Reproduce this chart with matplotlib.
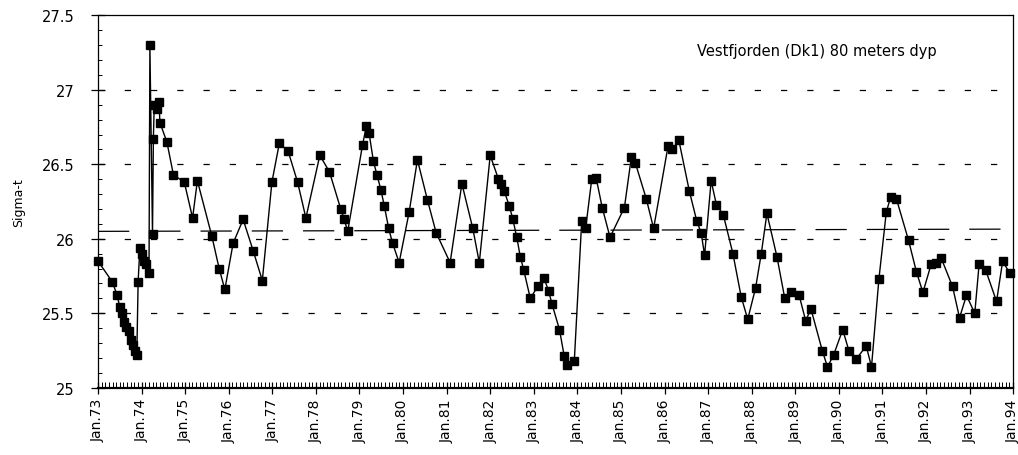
import matplotlib
matplotlib.use("Agg")
import matplotlib.pyplot as plt
from matplotlib.ticker import MultipleLocator

# sampling time (decimal year) and sigma-t at 80 m
years = [
    1973.00, 1973.33, 1973.44, 1973.50, 1973.56, 1973.60, 1973.65, 1973.70, 1973.75, 1973.80,
    1973.85, 1973.89, 1973.92, 1973.96, 1974.00, 1974.06, 1974.11, 1974.17, 1974.19, 1974.25,
    1974.27, 1974.29, 1974.35, 1974.40, 1974.42, 1974.58, 1974.73, 1974.98, 1975.17, 1975.28,
    1975.61, 1975.78, 1975.91, 1976.10, 1976.33, 1976.56, 1976.77, 1976.99, 1977.16, 1977.36,
    1977.58, 1977.77, 1978.09, 1978.31, 1978.57, 1978.65, 1978.73, 1979.07, 1979.16, 1979.22,
    1979.32, 1979.40, 1979.49, 1979.57, 1979.67, 1979.76, 1979.91, 1980.14, 1980.33, 1980.56,
    1980.76, 1981.08, 1981.35, 1981.60, 1981.75, 1982.00, 1982.19, 1982.25, 1982.32, 1982.44,
    1982.52, 1982.61, 1982.69, 1982.77, 1982.92, 1983.09, 1983.23, 1983.34, 1983.42, 1983.59,
    1983.70, 1983.77, 1983.93, 1984.10, 1984.19, 1984.33, 1984.43, 1984.57, 1984.75, 1985.08,
    1985.24, 1985.33, 1985.58, 1985.75, 1986.08, 1986.18, 1986.33, 1986.57, 1986.74, 1986.84,
    1986.92, 1987.07, 1987.19, 1987.35, 1987.57, 1987.76, 1987.91, 1988.09, 1988.22, 1988.35,
    1988.58, 1988.76, 1988.91, 1989.09, 1989.24, 1989.36, 1989.62, 1989.74, 1989.88, 1990.09,
    1990.23, 1990.39, 1990.63, 1990.75, 1990.92, 1991.09, 1991.19, 1991.32, 1991.60, 1991.78,
    1991.93, 1992.12, 1992.22, 1992.35, 1992.61, 1992.77, 1992.93, 1993.12, 1993.22, 1993.37,
    1993.62, 1993.76, 1993.92,
]
sigma_t = [
    25.85, 25.71, 25.62, 25.54, 25.50, 25.44, 25.41, 25.38, 25.32, 25.29,
    25.25, 25.22, 25.71, 25.94, 25.90, 25.85, 25.83, 25.77, 27.30, 26.03,
    26.67, 26.90, 26.87, 26.92, 26.78, 26.65, 26.43, 26.38, 26.14, 26.39,
    26.02, 25.80, 25.66, 25.97, 26.13, 25.92, 25.72, 26.38, 26.64, 26.59,
    26.38, 26.14, 26.56, 26.45, 26.20, 26.13, 26.05, 26.63, 26.76, 26.71,
    26.52, 26.43, 26.33, 26.22, 26.07, 25.97, 25.84, 26.18, 26.53, 26.26,
    26.04, 25.84, 26.37, 26.07, 25.84, 26.56, 26.40, 26.37, 26.32, 26.22,
    26.13, 26.01, 25.88, 25.79, 25.60, 25.68, 25.74, 25.65, 25.56, 25.39,
    25.21, 25.15, 25.18, 26.12, 26.07, 26.40, 26.41, 26.21, 26.01, 26.21,
    26.55, 26.51, 26.27, 26.07, 26.62, 26.60, 26.66, 26.32, 26.12, 26.04,
    25.89, 26.39, 26.23, 26.16, 25.90, 25.61, 25.46, 25.67, 25.90, 26.17,
    25.88, 25.60, 25.64, 25.62, 25.45, 25.53, 25.25, 25.14, 25.22, 25.39,
    25.25, 25.19, 25.28, 25.14, 25.73, 26.18, 26.28, 26.27, 25.99, 25.78,
    25.64, 25.83, 25.84, 25.87, 25.68, 25.47, 25.62, 25.50, 25.83, 25.79,
    25.58, 25.85, 25.77,
]

# linear trend drawn across the full period
trend_years = [1973, 1994]
trend_vals = [26.05, 26.065]

tick_years = list(range(1973, 1995))
tick_labels = ["Jan.%02d" % (y % 100) for y in tick_years]
y_ticks = [25, 25.5, 26, 26.5, 27, 27.5]
y_labels = ["25", "25.5", "26", "26.5", "27", "27.5"]

plt.rcParams['font.family'] = ['DejaVu Sans']

fig = plt.figure(figsize=(10.18, 4.56), dpi=100)
ax = fig.add_axes([0.0963, 0.1474, 0.8989, 0.8168])

# dotted reference lines at each half unit
for yv in y_ticks[1:-1]:
    ax.axhline(yv, color='black', lw=0.9, dashes=(5, 16), zorder=1)

ax.plot(trend_years, trend_vals, color='black', lw=0.9, dashes=(25, 16), zorder=1)

ax.plot(years, sigma_t, color='black', lw=1.0, marker='s', markersize=5.5,
        markerfacecolor='black', markeredgecolor='black', zorder=3, clip_on=False)

ax.set_xlim(1973, 1994)
ax.set_ylim(25, 27.5)
ax.set_xticks(tick_years)
ax.set_xticklabels(tick_labels, rotation=90, fontsize=10)
ax.set_yticks(y_ticks)
ax.set_yticklabels(y_labels, fontsize=10.5)
ax.xaxis.set_minor_locator(MultipleLocator(1 / 12))
ax.yaxis.set_minor_locator(MultipleLocator(0.1))

ax.tick_params(axis='x', which='major', direction='inout', length=9, width=0.9, pad=3)
ax.tick_params(axis='x', which='minor', direction='in', length=4, width=0.7)
ax.tick_params(axis='y', which='major', direction='inout', length=10, width=0.9, pad=12)
ax.tick_params(axis='y', which='minor', direction='in', length=3, width=0.7)

for side in ['left', 'right', 'top', 'bottom']:
    ax.spines[side].set_linewidth(0.9)
ax.spines['bottom'].set_linewidth(1.6)

ax.set_ylabel("Sigma-t", fontsize=9, labelpad=12)
ax.text(0.786, 0.905, "Vestfjorden (Dk1) 80 meters dyp", transform=ax.transAxes,
        ha='center', va='center', fontsize=10.5)

fig.savefig("out.png", dpi=100)
